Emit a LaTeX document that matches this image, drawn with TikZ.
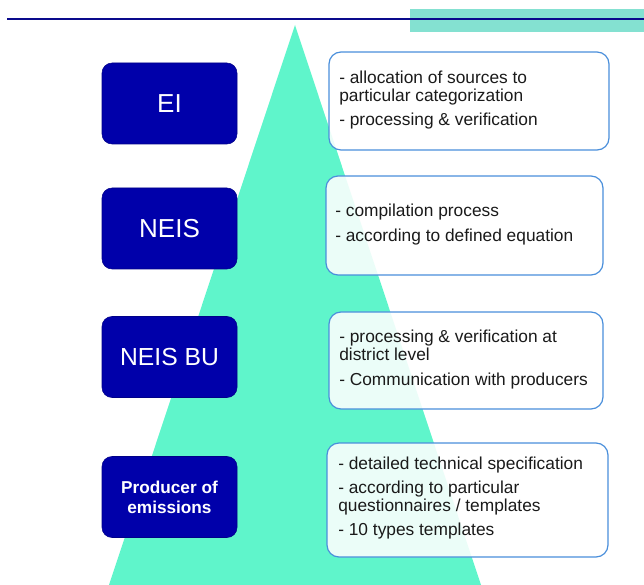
\documentclass[tikz,border=0pt]{standalone}
\usepackage{fontspec}
\setmainfont{Liberation Sans}
\setsansfont{Liberation Sans}
\definecolor{dblue}{HTML}{0000AA}
\definecolor{navyline}{HTML}{0A0A8C}
\definecolor{tealbar}{HTML}{84E1D1}
\definecolor{tri}{HTML}{5FF5CB}
\definecolor{bordblue}{HTML}{4A8FDB}
\definecolor{txt}{HTML}{1A1A1A}
\begin{document}
\begin{tikzpicture}[x=0.75pt,y=-0.75pt,
  lbox/.style={draw=dblue!80!black,line width=0.4pt,fill=dblue,rounded corners=7.5pt,
    minimum width=101.25pt,minimum height=60.75pt,inner sep=0pt,text=white},
  rbox/.style={draw=bordblue,line width=0.9pt,fill=white,fill opacity=0.88,text opacity=1,
    rounded corners=9pt,inner sep=0pt},
  rtxt/.style={anchor=base west,inner sep=0pt,text=txt,font=\fontsize{13}{15}\selectfont}
]
\useasboundingbox (0,0) rectangle (644,585);
% header
\fill[tealbar] (410,9.5) rectangle (644,32);
\coordinate (hl) at (7,18.8);
\coordinate (hr) at (644,18.8);
\draw[navyline,line width=1.8pt] (hl) -- (hr);
% triangle
\coordinate (apex) at (295,25);
\coordinate (bl) at (109,585);
\coordinate (br) at (481,585);
\fill[tri] (apex) -- (br) -- (bl) -- cycle;
% left boxes
\node[lbox,font=\fontsize{19.5}{22}\selectfont] (ei) at (169.5,103.5) {EI};
\node[lbox,font=\fontsize{19.5}{22}\selectfont] (neis) at (169.5,228.5) {NEIS};
\node[lbox,font=\fontsize{18.5}{22}\selectfont] (neisbu) at (169.5,357) {NEIS BU};
\node[lbox,font=\bfseries\fontsize{12.9}{15}\selectfont,align=center] (prod) at (169.5,497) {Producer of\\emissions};
% right boxes
\node[rbox,minimum width=210pt,minimum height=73.5pt] (b1) at (469,101) {};
\node[rbox,minimum width=207.75pt,minimum height=74.25pt] (b2) at (464.5,225.5) {};
\node[rbox,minimum width=205.5pt,minimum height=72.75pt] (b3) at (466,360.5) {};
\node[rbox,minimum width=210.75pt,minimum height=85.5pt] (b4) at (467.5,500) {};
% texts
\node[rtxt] (t11) at (339,83.5) {- allocation of sources to};
\node[rtxt] (t12) at (339,101.5) {particular categorization};
\node[rtxt] (t13) at (339,126) {- processing \& verification};
\node[rtxt] (t21) at (335,216.5) {- compilation process};
\node[rtxt] (t22) at (335,241.5) {- according to defined equation};
\node[rtxt] (t31) at (339,343) {- processing \& verification at};
\node[rtxt] (t32) at (339,360) {district level};
\node[rtxt] (t33) at (339,385) {- Communication with producers};
\node[rtxt] (t41) at (338,469.5) {- detailed technical specification};
\node[rtxt] (t42) at (338,493.5) {- according to particular};
\node[rtxt] (t43) at (338,511.5) {questionnaires / templates};
\node[rtxt] (t44) at (338,535.5) {- 10 types templates};
\end{tikzpicture}
\end{document}
